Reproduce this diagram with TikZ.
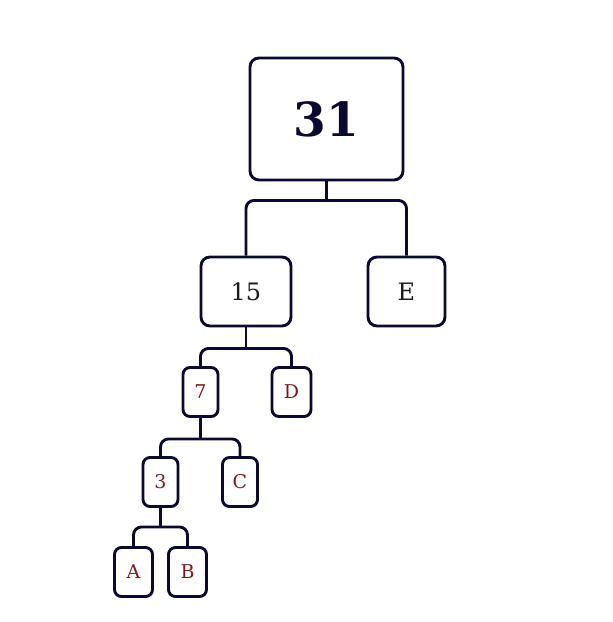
\documentclass[tikz,border=0pt]{standalone}
\usepackage{fontspec}
\setmainfont{DejaVu Serif}
\usetikzlibrary{calc}
\definecolor{navy}{HTML}{0A0A30}
\definecolor{leafred}{HTML}{7A1A1A}
\definecolor{txt}{HTML}{1A1A1A}
\tikzset{
  box/.style={draw=navy, line width=2.9pt, rounded corners=9pt, fill=white, inner sep=0pt},
  small/.style={box, rounded corners=7pt, minimum width=35pt, minimum height=49pt, text=leafred, font=\fontsize{19}{22}\selectfont},
  mid/.style={box, minimum height=69pt, text=txt, font=\fontsize{24}{28}\selectfont},
  link/.style={draw=navy, line width=2.9pt, rounded corners=8pt}
}
\begin{document}
\begin{tikzpicture}[x=1pt,y=-1pt]
\useasboundingbox (0,0) rectangle (613,622);
\node[box, minimum width=153pt, minimum height=122pt, text=navy, font=\fontsize{47}{54}\bfseries\selectfont] (n31) at (326.5,119) {31};
\node[mid, minimum width=90pt] (n15) at (246,291.5) {15};
\node[mid, minimum width=77pt] (nE) at (406.5,291.5) {E};
\node[small] (n7) at (200.5,392) {7};
\node[small, minimum width=39pt] (nD) at (291.5,392) {D};
\node[small] (n3) at (160.5,482) {3};
\node[small] (nC) at (240,482) {C};
\node[small, minimum width=38pt] (nA) at (133.5,572) {A};
\node[small, minimum width=38pt] (nB) at (187.5,572) {B};

\coordinate (j1) at ($(n31.south)+(0,19)$);
\coordinate (j2) at ($(n15.south)+(0,21)$);
\coordinate (j3) at ($(n7.south)+(0,21)$);
\coordinate (j4) at ($(n3.south)+(0,19)$);

\draw[link] (n31.south) -- (j1);
\draw[link] (n15.north) |- (j1) -| (nE.north);
\draw[link] (n15.south) -- (j2);
\draw[link] (n7.north) |- (j2) -| (nD.north);
\draw[link] (n7.south) -- (j3);
\draw[link] (n3.north) |- (j3) -| (nC.north);
\draw[link] (n3.south) -- (j4);
\draw[link] (nA.north) |- (j4) -| (nB.north);
\end{tikzpicture}
\end{document}
